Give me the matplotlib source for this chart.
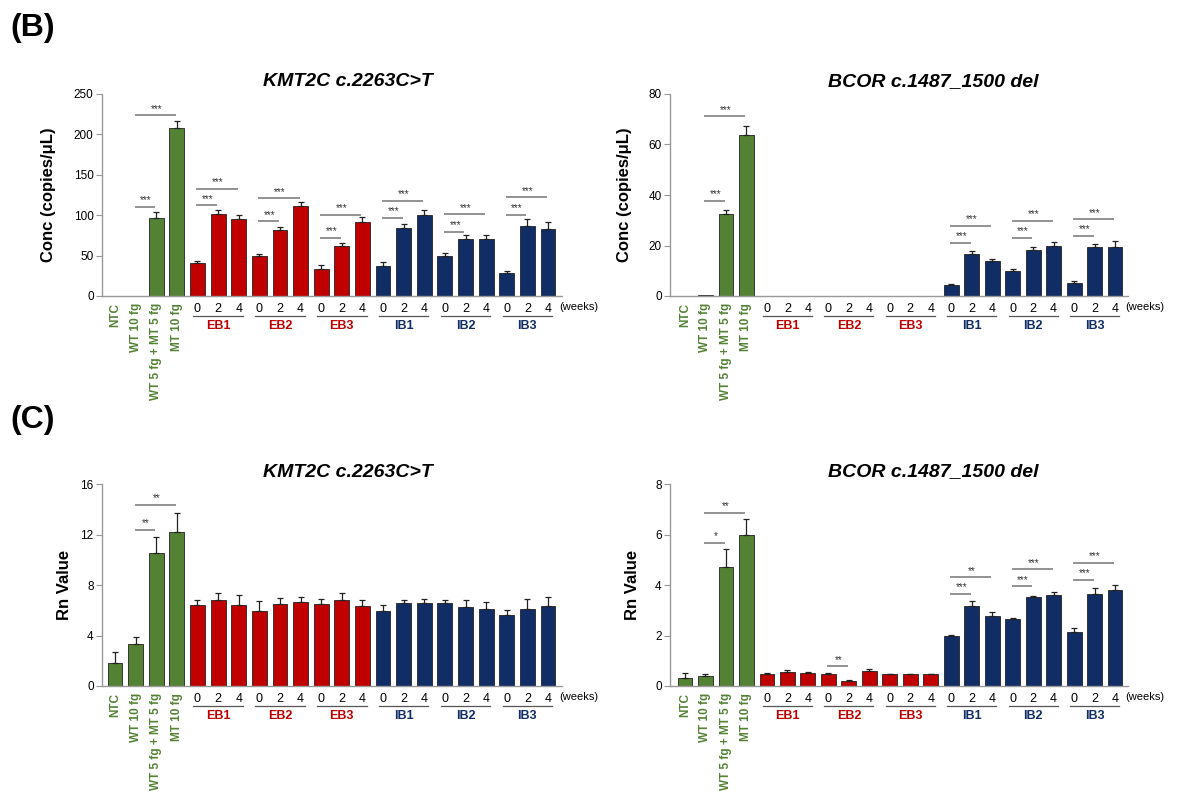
import numpy as np
import matplotlib.pyplot as plt

plt.rcParams['font.family'] = ['Liberation Sans', 'DejaVu Sans']

ctrl_labels = ['NTC', 'WT 10 fg', 'WT 5 fg + MT 5 fg', 'MT 10 fg']
groups = ['EB1', 'EB2', 'EB3', 'IB1', 'IB2', 'IB3']
weeks = ['0', '2', '4']

# (B) concentration, copies/uL
kmt_conc = [0, 0, 97, 208, 41, 101, 95, 49, 82, 111, 34, 62, 92,
            37.5, 84.5, 100.5, 50, 71, 71, 29, 87, 83]
kmt_conc_err = [0, 0, 7, 8, 2, 6, 5, 3, 4, 5, 4, 4, 6,
                4, 4, 6, 3.5, 4, 4, 2, 8, 8]
bcor_conc = [0, 0.3, 32.3, 63.6, 0, 0, 0, 0, 0, 0, 0, 0, 0,
             4.2, 16.8, 13.7, 9.8, 18.2, 19.7, 5, 19.5, 19.5]
bcor_conc_err = [0, 0, 1.7, 3.8, 0, 0, 0, 0, 0, 0, 0, 0, 0,
                 0.5, 1.2, 1.1, 1.0, 1.3, 1.7, 0.8, 1.1, 2.1]

# (C) Rn value
kmt_rn = [1.85, 3.35, 10.5, 12.2, 6.44, 6.81, 6.39, 5.94, 6.52, 6.63, 6.52, 6.79, 6.31,
          5.91, 6.55, 6.57, 6.55, 6.26, 6.07, 5.6, 6.13, 6.34]
kmt_rn_err = [0.87, 0.55, 1.3, 1.53, 0.4, 0.58, 0.82, 0.79, 0.42, 0.4, 0.34, 0.55, 0.53,
              0.48, 0.26, 0.32, 0.26, 0.53, 0.58, 0.39, 0.73, 0.68]
bcor_rn = [0.33, 0.41, 4.73, 5.97, 0.46, 0.55, 0.53, 0.49, 0.21, 0.59, 0.46, 0.46, 0.46,
           1.97, 3.17, 2.76, 2.65, 3.51, 3.6, 2.14, 3.64, 3.8]
bcor_rn_err = [0.2, 0.05, 0.71, 0.63, 0.04, 0.07, 0.04, 0.04, 0.02, 0.08, 0.02, 0.02, 0.02,
               0.04, 0.21, 0.17, 0.03, 0.05, 0.11, 0.16, 0.25, 0.19]

# significance brackets: (bar from, bar to, height, stars)
kmt_conc_sig = [(1, 2, 110.5, '***'), (1, 3, 224, '***'),
                (4, 5, 112.6, '***'), (4, 6, 133, '***'),
                (7, 8, 92.4, '***'), (7, 9, 121.3, '***'),
                (10, 11, 72, '***'), (10, 12, 100.7, '***'),
                (13, 14, 97, '***'), (13, 15, 118, '***'),
                (16, 17, 79.6, '***'), (16, 18, 101, '***'),
                (19, 20, 100.7, '***'), (19, 21, 122, '***')]
bcor_conc_sig = [(1, 2, 37.8, '***'), (1, 3, 71.3, '***'),
                 (13, 14, 21.1, '***'), (13, 15, 27.9, '***'),
                 (16, 17, 23.1, '***'), (16, 18, 29.8, '***'),
                 (19, 20, 23.8, '***'), (19, 21, 30.5, '***')]
kmt_rn_sig = [(1, 2, 12.36, '**'), (1, 3, 14.36, '**')]
bcor_rn_sig = [(1, 2, 5.68, '*'), (1, 3, 6.86, '**'), (7, 8, 0.79, '**'),
               (13, 14, 3.66, '***'), (13, 15, 4.3, '**'),
               (16, 17, 3.96, '***'), (16, 18, 4.62, '***'),
               (19, 20, 4.21, '***'), (19, 21, 4.88, '***')]

GREEN = '#548235'
RED = '#C00000'
NAVY = '#112D66'
colors = [GREEN] * 4 + [RED] * 9 + [NAVY] * 9
group_colors = [RED] * 3 + [NAVY] * 3


def draw_panel(ax, values, errs, sigs, title, title_x, ylabel, ymax, step, ylab_x, xlim):
    x = np.arange(len(values))
    ax.bar(x, values, width=0.72, color=colors, edgecolor='#222222', linewidth=0.6, zorder=2)
    errs = np.array(errs)
    mask = errs > 0
    ax.errorbar(x[mask], np.array(values)[mask], yerr=[np.zeros(mask.sum()), errs[mask]],
                fmt='none', ecolor='#222222', elinewidth=0.9, capsize=2.5, capthick=0.9, zorder=3)
    ax.set_xlim(*xlim)
    ax.set_ylim(0, ymax)
    ax.set_yticks(np.arange(0, ymax + step / 2, step))
    ax.set_xticks([])
    for s in ['top', 'right']:
        ax.spines[s].set_visible(False)
    for s in ['left', 'bottom']:
        ax.spines[s].set_color('#999999')
        ax.spines[s].set_linewidth(1.0)
    ax.tick_params(axis='y', direction='out', length=4, color='#999999', labelsize=8.5, pad=2)
    ax.set_ylabel(ylabel, fontsize=12, fontweight='bold')
    ax.yaxis.set_label_coords(ylab_x, 0.5)
    ax.text(title_x, 1 + 12 / 202, title, transform=ax.transAxes, fontsize=14,
            fontweight='bold', style='italic', ha='center', va='center')

    # significance bars
    for a, b, h, stars in sigs:
        ax.plot([a - 0.05, b - 0.05], [h, h], color='#808080', lw=1.2, zorder=4,
                solid_capstyle='butt')
        ax.annotate(stars, xy=((a + b) / 2, h), xytext=(0, 1), textcoords='offset points',
                    ha='center', va='bottom', fontsize=7, color='#333333')

    # x labels
    tr = ax.get_xaxis_transform()
    for i, lab in enumerate(ctrl_labels):
        ax.annotate(lab, xy=(i, 0), xycoords=tr, xytext=(0, -7), textcoords='offset pixels',
                    rotation=90, ha='center', va='top', fontsize=8.5, fontweight='bold',
                    color=GREEN, annotation_clip=False)
    for g, name in enumerate(groups):
        start = 4 + 3 * g
        for k, w in enumerate(weeks):
            ax.annotate(w, xy=(start + k, 0), xycoords=tr, xytext=(0, -13.5),
                        textcoords='offset pixels', ha='center', va='center',
                        fontsize=9, annotation_clip=False)
        line_y = -20 / 202
        ax.plot([start - 0.2, start + 2.2], [line_y, line_y], transform=tr, color='#555555',
                lw=0.9, clip_on=False)
        ax.annotate(name, xy=(start + 1, 0), xycoords=tr, xytext=(0, -30),
                    textcoords='offset pixels', ha='center', va='center', fontsize=9,
                    fontweight='bold', color=group_colors[g], annotation_clip=False)
    ax.annotate('(weeks)', xy=(xlim[1], 0), xycoords=tr, xytext=(-3, -11),
                textcoords='offset pixels', ha='left', va='center', fontsize=8,
                annotation_clip=False)


fig = plt.figure(figsize=(11.79, 7.97), dpi=100)
h = 202 / 797
ax1 = fig.add_axes([102 / 1179, 1 - 296 / 797, 460 / 1179, h])
ax2 = fig.add_axes([670 / 1179, 1 - 296 / 797, 458 / 1179, h])
ax3 = fig.add_axes([102 / 1179, 1 - 686 / 797, 460 / 1179, h])
ax4 = fig.add_axes([670 / 1179, 1 - 686 / 797, 458 / 1179, h])

draw_panel(ax1, kmt_conc, kmt_conc_err, kmt_conc_sig, 'KMT2C c.2263C>T', 0.535,
           'Conc (copies/μL)', 250, 50, -0.1, (-0.63, 21.68))
draw_panel(ax2, bcor_conc, bcor_conc_err, bcor_conc_sig, 'BCOR c.1487_1500 del', 0.575,
           'Conc (copies/μL)', 80, 20, -0.083, (-0.73, 21.63))
draw_panel(ax3, kmt_rn, kmt_rn_err, kmt_rn_sig, 'KMT2C c.2263C>T', 0.535,
           'Rn Value', 16, 4, -0.065, (-0.63, 21.68))
draw_panel(ax4, bcor_rn, bcor_rn_err, bcor_rn_sig, 'BCOR c.1487_1500 del', 0.575,
           'Rn Value', 8, 2, -0.066, (-0.73, 21.63))

fig.text(10 / 1179, 1 - 28 / 797, '(B)', fontsize=23, fontweight='bold', va='center', ha='left')
fig.text(10 / 1179, 1 - 420 / 797, '(C)', fontsize=23, fontweight='bold', va='center', ha='left')

fig.savefig('out.png', dpi=100)
